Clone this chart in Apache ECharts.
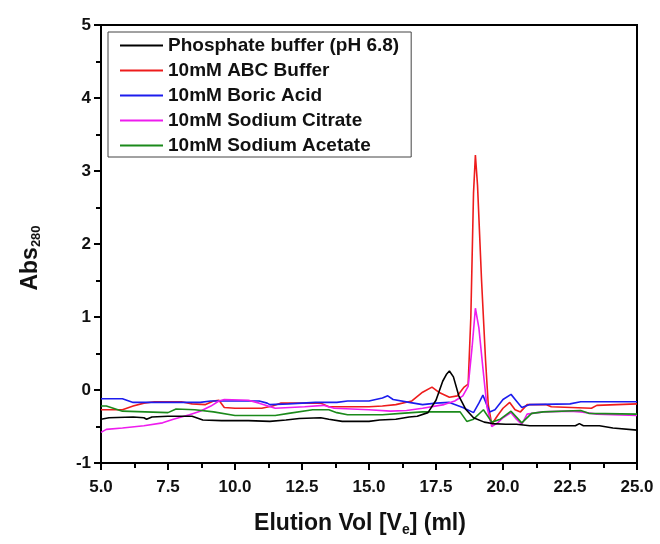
<!DOCTYPE html>
<html>
<head>
<meta charset="utf-8">
<script src="https://cdn.jsdelivr.net/npm/echarts@6/dist/echarts.min.js"></script>
<style>
  html, body { margin: 0; padding: 0; background: #fff; }
  #chart { width: 660px; height: 544px; }
</style>
</head>
<body>
<div id="chart"></div>
<script>
// [elution volume (ml), Abs280]
const phosphate = [
  [5.0, -0.40], [5.3, -0.38], [6.2, -0.37], [6.6, -0.38], [6.7, -0.40], [6.9, -0.37], [7.5, -0.36],
  [8.4, -0.36], [8.8, -0.41], [9.5, -0.42], [10.5, -0.42], [11.3, -0.43], [11.9, -0.41], [12.4, -0.39],
  [13.2, -0.38], [13.5, -0.40], [14.0, -0.43], [15.0, -0.43], [15.4, -0.41], [16.0, -0.40], [16.5, -0.37],
  [16.8, -0.36], [17.2, -0.31], [17.5, -0.14], [17.75, 0.12], [17.9, 0.22], [18.0, 0.26], [18.15, 0.18],
  [18.35, -0.08], [18.6, -0.26], [18.9, -0.38], [19.3, -0.44], [19.6, -0.46], [20.1, -0.47], [20.5, -0.47],
  [21.0, -0.49], [22.0, -0.49], [22.7, -0.49], [22.85, -0.46], [23.0, -0.49], [23.6, -0.49], [24.1, -0.52],
  [25.0, -0.55]
];
const abcBuffer = [
  [5.0, -0.27], [5.8, -0.27], [6.2, -0.22], [6.6, -0.18], [7.0, -0.16], [8.0, -0.16], [8.4, -0.19],
  [8.9, -0.20], [9.2, -0.15], [9.4, -0.14], [9.6, -0.24], [10.0, -0.25], [11.0, -0.25], [11.4, -0.22],
  [11.7, -0.18], [13.2, -0.18], [13.5, -0.23], [15.0, -0.23], [15.5, -0.22], [16.0, -0.20], [16.6, -0.15],
  [17.0, -0.03], [17.35, 0.04], [17.6, -0.03], [18.0, -0.10], [18.3, -0.08], [18.55, 0.04], [18.7, 0.08],
  [18.8, 1.0], [18.9, 2.7], [18.97, 3.22], [19.05, 2.8], [19.2, 1.5], [19.35, 0.4], [19.45, -0.2],
  [19.58, -0.47], [19.8, -0.35], [20.0, -0.25], [20.25, -0.17], [20.45, -0.27], [20.65, -0.30],
  [20.9, -0.20], [21.6, -0.20], [21.8, -0.23], [23.3, -0.25], [23.5, -0.21], [25.0, -0.19]
];
const boricAcid = [
  [5.0, -0.12], [5.8, -0.12], [6.2, -0.17], [8.7, -0.17], [9.1, -0.15], [10.9, -0.15], [11.2, -0.18],
  [11.3, -0.20], [12.0, -0.19], [13.0, -0.17], [13.8, -0.17], [14.2, -0.15], [15.0, -0.15], [15.5, -0.11],
  [15.7, -0.08], [15.9, -0.13], [16.5, -0.17], [17.0, -0.20], [17.5, -0.18], [18.0, -0.17], [18.5, -0.24],
  [18.9, -0.31], [19.1, -0.18], [19.25, -0.07], [19.5, -0.30], [19.7, -0.27], [20.0, -0.13], [20.3, -0.06],
  [20.5, -0.15], [20.7, -0.24], [21.0, -0.20], [22.5, -0.19], [22.9, -0.16], [25.0, -0.16]
];
const sodiumCitrate = [
  [5.0, -0.58], [5.2, -0.54], [5.8, -0.52], [6.6, -0.49], [7.3, -0.45], [7.7, -0.40], [8.3, -0.34],
  [8.7, -0.29], [9.1, -0.22], [9.4, -0.15], [9.6, -0.13], [10.5, -0.14], [10.9, -0.18], [11.5, -0.25],
  [12.6, -0.23], [13.3, -0.21], [13.7, -0.25], [15.0, -0.27], [15.8, -0.29], [16.4, -0.28], [17.0, -0.25],
  [17.8, -0.20], [18.2, -0.15], [18.5, -0.08], [18.7, 0.05], [18.85, 0.6], [18.97, 1.12], [19.1, 0.85],
  [19.25, 0.3], [19.4, -0.23], [19.58, -0.50], [19.8, -0.45], [20.0, -0.38], [20.3, -0.31], [20.5, -0.40],
  [20.7, -0.47], [20.9, -0.33], [21.5, -0.30], [22.5, -0.29], [22.9, -0.30], [23.5, -0.33], [25.0, -0.35]
];
const sodiumAcetate = [
  [5.0, -0.22], [5.2, -0.22], [5.8, -0.29], [7.5, -0.31], [7.8, -0.26], [8.5, -0.27], [9.2, -0.30],
  [10.0, -0.35], [11.5, -0.35], [12.0, -0.32], [12.9, -0.27], [13.5, -0.27], [13.8, -0.31], [14.2, -0.34],
  [15.5, -0.34], [16.2, -0.32], [17.0, -0.30], [18.4, -0.30], [18.65, -0.43], [18.9, -0.40], [19.27, -0.27],
  [19.58, -0.44], [19.9, -0.40], [20.3, -0.29], [20.7, -0.45], [21.07, -0.32], [21.5, -0.30], [22.9, -0.28],
  [23.2, -0.32], [25.0, -0.33]
];

const seriesNames = [
  "Phosphate buffer (pH 6.8)",
  "10mM ABC Buffer",
  "10mM Boric Acid",
  "10mM Sodium Citrate",
  "10mM Sodium Acetate"
];
const seriesData = [phosphate, abcBuffer, boricAcid, sodiumCitrate, sodiumAcetate];
const COLORS = ["#000000", "#ee1c1c", "#1c1cee", "#ee1cee", "#1b8a1b"];

const FONT = "Arial, 'Liberation Sans', sans-serif";

const chart = echarts.init(document.getElementById("chart"), null, { renderer: "canvas" });
chart.setOption({
  animation: false,
  backgroundColor: "#fff",
  color: COLORS,
  grid: {
    left: 101, right: 23, top: 25, bottom: 81,
    show: true, borderColor: "#000", borderWidth: 2, backgroundColor: "transparent"
  },
  legend: {
    orient: "vertical",
    left: 108,
    top: 32,
    padding: [4, 12, 2, 12],
    itemWidth: 43,
    itemHeight: 14,
    itemGap: 6,
    borderColor: "#444",
    borderWidth: 1,
    icon: "path://M0,6L43,6L43,8L0,8Z",
    textStyle: { color: "#111", fontFamily: FONT, fontWeight: "bold", fontSize: 19 },
    data: seriesNames
  },
  xAxis: {
    type: "value",
    min: 5, max: 25, interval: 2.5,
    name: "{a|Elution Vol [V}{s|e}{a|] (ml)}",
    nameLocation: "middle",
    nameGap: 48,
    nameTextStyle: {
      padding: [0, 18, 0, 0],
      rich: {
        a: { fontFamily: FONT, fontWeight: "bold", fontSize: 23, color: "#111" },
        s: { fontFamily: FONT, fontWeight: "bold", fontSize: 14, color: "#111", padding: [12, 0, 0, 0] }
      }
    },
    axisLine: { onZero: false, lineStyle: { color: "#000", width: 2 } },
    axisTick: { inside: false, length: 7, lineStyle: { color: "#000", width: 2 } },
    minorTick: { show: true, splitNumber: 2, length: 5, lineStyle: { color: "#000", width: 2 } },
    splitLine: { show: false },
    axisLabel: {
      color: "#111", fontFamily: FONT, fontWeight: "bold", fontSize: 17, margin: 16,
      formatter: (v) => v.toFixed(1)
    }
  },
  yAxis: {
    type: "value",
    min: -1, max: 5, interval: 1,
    name: "{a|Abs}{s|280}",
    nameLocation: "middle",
    nameGap: 58,
    nameRotate: 90,
    nameTextStyle: {
      padding: [0, 28, 0, 0],
      rich: {
        a: { fontFamily: FONT, fontWeight: "bold", fontSize: 23, color: "#111" },
        s: { fontFamily: FONT, fontWeight: "bold", fontSize: 13, color: "#111", padding: [12, 0, 0, 0] }
      }
    },
    axisLine: { onZero: false, lineStyle: { color: "#000", width: 2 } },
    axisTick: { inside: false, length: 7, lineStyle: { color: "#000", width: 2 } },
    minorTick: { show: true, splitNumber: 2, length: 5, lineStyle: { color: "#000", width: 2 } },
    splitLine: { show: false },
    axisLabel: { color: "#111", fontFamily: FONT, fontWeight: "bold", fontSize: 17, margin: 10 }
  },
  series: seriesNames.map((name, i) => ({
    name,
    type: "line",
    data: seriesData[i],
    symbol: "none",
    smooth: false,
    lineStyle: { width: 1.6, color: COLORS[i] },
    z: i === 0 ? 3 : 2
  }))
});
</script>
</body>
</html>
